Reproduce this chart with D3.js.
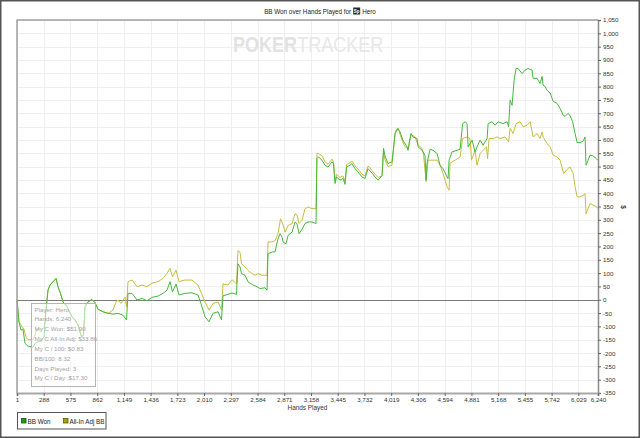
<!DOCTYPE html>
<html>
<head>
<meta charset="utf-8">
<script src="https://cdn.jsdelivr.net/npm/d3@7"></script>
<style>
body { margin: 0; background: #fff; }
text { font-family: "Liberation Sans", Arial, sans-serif; }
</style>
</head>
<body>
<div id="chart"></div>
<script>
var xTicks = [1, 288, 575, 862, 1149, 1436, 1723, 2010, 2297, 2584, 2871, 3158, 3445, 3732,
  4019, 4306, 4594, 4881, 5168, 5455, 5742, 6029, 6240];
var yTicks = [-350, -300, -250, -200, -150, -100, -50, 0, 50, 100, 150, 200, 250, 300, 350,
  400, 450, 500, 550, 600, 650, 700, 750, 800, 850, 900, 950, 1000, 1050];

// BB Won
var wonHands = [1, 22, 44, 65, 87, 119, 173, 194, 227, 269, 291, 312, 334, 355, 388, 420, 441, 468, 495, 538,
  592, 624, 656, 694, 715, 731, 764, 806, 839, 871, 925, 979, 1032, 1086, 1139, 1177, 1193, 1236, 1290, 1344,
  1397, 1451, 1516, 1569, 1612, 1644, 1671, 1709, 1741, 1805, 1880, 1945, 1982, 2020, 2063, 2106, 2160, 2197, 2213, 2267,
  2310, 2358, 2374, 2396, 2412, 2449, 2482, 2536, 2579, 2611, 2665, 2686, 2697, 2740, 2772, 2804, 2826, 2847, 2858, 2890,
  2912, 2955, 2987, 3008, 3030, 3062, 3094, 3126, 3169, 3212, 3222, 3239, 3276, 3308, 3341, 3384, 3400, 3416, 3432, 3470,
  3502, 3524, 3540, 3577, 3599, 3631, 3663, 3706, 3738, 3771, 3814, 3846, 3878, 3921, 3937, 3953, 3985, 4028, 4061, 4093,
  4114, 4146, 4189, 4200, 4232, 4254, 4297, 4308, 4351, 4372, 4383, 4394, 4404, 4437, 4469, 4512, 4544, 4576, 4619, 4630,
  4641, 4673, 4727, 4759, 4786, 4813, 4834, 4845, 4888, 4920, 4941, 4974, 5006, 5049, 5060, 5103, 5135, 5167, 5221, 5264,
  5280, 5296, 5317, 5339, 5360, 5382, 5425, 5457, 5489, 5532, 5543, 5586, 5618, 5640, 5651, 5672, 5694, 5726, 5758, 5801,
  5833, 5866, 5887, 5919, 5941, 5968, 5994, 6016, 6048, 6080, 6101, 6112, 6134, 6155, 6187, 6219, 6240];
var wonBB = [0, -83, -114, -110, -164, -174, -179, -164, -158, -150, -139, -39, 36, 55, 68, 80, 49, 24, -8, -26,
  -64, -76, -95, -139, -133, -26, -8, 1, -11, -36, -45, -51, -54, -51, -58, -76, 24, 24, -1, 5,
  -4, 9, 14, 24, 36, 68, 30, 59, 18, 24, 26, 18, -20, -64, -83, -51, -45, -76, 15, 20,
  25, 20, 135, 123, 98, 92, 67, 55, 49, 42, 45, 36, 173, 179, 180, 229, 248, 235, 217, 210,
  242, 254, 292, 285, 248, 265, 286, 292, 292, 286, 530, 536, 524, 505, 498, 518, 510, 436, 461, 449,
  455, 433, 498, 505, 511, 492, 480, 461, 455, 492, 475, 461, 449, 465, 568, 540, 511, 518, 624, 643,
  630, 598, 574, 561, 624, 611, 605, 574, 561, 549, 540, 449, 512, 565, 561, 549, 505, 492, 461, 455,
  524, 555, 561, 565, 661, 668, 661, 574, 599, 555, 574, 599, 580, 605, 661, 668, 655, 668, 661, 668,
  649, 749, 730, 824, 868, 868, 849, 862, 868, 862, 831, 831, 812, 838, 805, 800, 786, 776, 745, 737,
  718, 693, 688, 700, 690, 668, 624, 590, 590, 595, 611, 505, 524, 543, 540, 531, 523];

// All-In Adj BB
var adjHands = [1, 22, 44, 76, 98, 119, 173, 194, 216, 269, 291, 312, 334, 355, 388, 420, 441, 468, 495, 538,
  592, 624, 656, 694, 715, 731, 764, 806, 839, 871, 925, 979, 1032, 1064, 1086, 1118, 1161, 1177, 1193, 1236,
  1290, 1344, 1397, 1451, 1516, 1569, 1612, 1644, 1671, 1709, 1741, 1805, 1880, 1945, 1982, 2020, 2063, 2106, 2160, 2197,
  2213, 2267, 2310, 2358, 2374, 2396, 2412, 2449, 2482, 2525, 2557, 2589, 2632, 2686, 2697, 2740, 2772, 2804, 2831, 2853,
  2879, 2912, 2955, 2987, 3008, 3030, 3062, 3094, 3126, 3169, 3212, 3222, 3239, 3276, 3308, 3341, 3384, 3400, 3416, 3432,
  3470, 3502, 3524, 3540, 3577, 3599, 3631, 3663, 3706, 3738, 3771, 3814, 3846, 3878, 3921, 3937, 3953, 3985, 4028, 4061,
  4071, 4093, 4136, 4168, 4200, 4232, 4275, 4308, 4351, 4367, 4394, 4415, 4458, 4512, 4544, 4576, 4619, 4641, 4651, 4705,
  4759, 4786, 4834, 4866, 4882, 4920, 4941, 4974, 5006, 5043, 5054, 5070, 5113, 5156, 5188, 5242, 5280, 5296, 5328, 5360,
  5403, 5436, 5478, 5511, 5543, 5586, 5618, 5640, 5651, 5694, 5726, 5758, 5801, 5833, 5871, 5919, 5941, 5973, 5994, 6016,
  6048, 6080, 6101, 6112, 6134, 6155, 6187, 6219, 6240];
var adjBB = [0, -83, -95, -110, -140, -150, -150, -133, -110, -110, -105, -39, 36, 55, 68, 80, 49, 24, -8, -26,
  -64, -76, -95, -139, -133, -26, -8, 1, -11, -36, -45, -51, -39, -8, -1, -14, 10, -26, 68, 74,
  49, 55, 49, 62, 68, 80, 99, 118, 86, 111, 68, 74, 74, 55, 24, -8, -39, -14, -8, -39,
  60, 55, 75, 60, 185, 178, 135, 123, 110, 98, 92, 98, 92, 92, 217, 217, 222, 248, 304, 286,
  254, 279, 286, 323, 318, 286, 298, 342, 348, 342, 342, 549, 549, 540, 518, 508, 528, 518, 446, 471,
  459, 465, 443, 508, 515, 521, 502, 490, 471, 465, 502, 485, 471, 459, 465, 555, 525, 500, 505, 624,
  636, 643, 598, 574, 568, 620, 611, 580, 568, 543, 443, 524, 524, 524, 505, 474, 424, 411, 512, 524,
  536, 605, 611, 605, 524, 561, 505, 549, 561, 574, 530, 605, 605, 611, 605, 611, 593, 643, 624, 661,
  668, 649, 655, 668, 611, 624, 605, 630, 610, 586, 574, 543, 536, 524, 474, 493, 498, 474, 424, 386,
  386, 392, 399, 323, 343, 361, 355, 350, 343];

var seriesNames = ["BB Won", "All-In Adj BB"];
var infoLines = ["Player: Hero", "Hands: 6,240", "My C Won: $51.90", "My C All-In Adj: $33.86",
  "My C / 100: $0.83", "BB/100: 8.32", "Days Played: 3", "My C / Day: $17.30"];

var width = 640, height = 438;
var plotL = 17, plotR = 598, plotT = 20, plotB = 393;

var svg = d3.select("#chart").append("svg")
    .attr("width", width)
    .attr("height", height);

svg.append("rect").attr("x", 0).attr("y", 0).attr("width", width).attr("height", height).attr("fill", "#fff");

var x = d3.scaleLinear().domain([1, 6240]).range([plotL, plotR]);
var y = d3.scaleLinear().domain([-350, 1050]).range([plotB, plotT]);

// grid
svg.append("g").selectAll("line").data(yTicks).enter().append("line")
  .attr("x1", plotL).attr("x2", plotR)
  .attr("y1", function(d) { return Math.round(y(d)) + 0.5; })
  .attr("y2", function(d) { return Math.round(y(d)) + 0.5; })
  .attr("stroke", "#efefef");
svg.append("g").selectAll("line").data(xTicks).enter().append("line")
  .attr("y1", plotT).attr("y2", plotB)
  .attr("x1", function(d) { return Math.round(x(d)) + 0.5; })
  .attr("x2", function(d) { return Math.round(x(d)) + 0.5; })
  .attr("stroke", "#efefef");

// watermark, one text squeezed sideways
var wm = svg.append("text")
  .attr("transform", "translate(233,52) scale(0.82,1)")
  .attr("font-size", 22);
wm.append("tspan").attr("font-weight", "bold").attr("fill", "#e2e2e2").text("POKER");
wm.append("tspan").attr("fill", "#e8e8e8").text("TRACKER");

// zero line
svg.append("line").attr("x1", plotL).attr("x2", plotR)
  .attr("y1", Math.round(y(0)) + 0.5).attr("y2", Math.round(y(0)) + 0.5)
  .attr("stroke", "#7a7a7a").attr("stroke-width", 1);

var line = d3.line()
  .x(function(d) { return x(d[0]); })
  .y(function(d) { return y(d[1]); });

svg.append("path")
  .datum(d3.zip(adjHands, adjBB))
  .attr("d", line)
  .attr("fill", "none").attr("stroke", "#c6be40").attr("stroke-width", 1);

svg.append("path")
  .datum(d3.zip(wonHands, wonBB))
  .attr("d", line)
  .attr("fill", "none").attr("stroke", "#45b83c").attr("stroke-width", 1);

// plot frame
svg.append("path")
  .attr("d", "M" + plotL + "," + plotB + "V" + plotT + "H" + plotR)
  .attr("fill", "none").attr("stroke", "#a0a0a0").attr("stroke-width", 1.5);

var fmt = function(d) { return d3.format(",")(d).replace("\u2212", "-"); };

var yAxis = svg.append("g")
  .attr("transform", "translate(" + plotR + ",0)")
  .call(d3.axisRight(y).tickValues(yTicks).tickSize(3).tickPadding(2).tickFormat(fmt));
yAxis.select(".domain").attr("stroke", "#8a8a8a").attr("stroke-width", 1.5);
yAxis.selectAll(".tick line").attr("stroke", "#666");
yAxis.selectAll("text").attr("font-size", 6.2).attr("fill", "#333")
  .attr("font-family", "Liberation Sans, Arial, sans-serif");

var xAxis = svg.append("g")
  .attr("transform", "translate(0," + plotB + ")")
  .call(d3.axisBottom(x).tickValues(xTicks).tickSize(3).tickPadding(2).tickFormat(fmt));
xAxis.select(".domain").attr("stroke", "#a8a8a8").attr("stroke-width", 2);
xAxis.selectAll(".tick line").attr("stroke", "#666");
xAxis.selectAll("text").attr("font-size", 6.2).attr("fill", "#333")
  .attr("font-family", "Liberation Sans, Arial, sans-serif");

svg.append("text").attr("x", (plotL + plotR) / 2).attr("y", 410)
  .attr("text-anchor", "middle").attr("font-size", 6.4).attr("fill", "#333").text("Hands Played");

svg.append("text").attr("transform", "translate(621,207) rotate(90)")
  .attr("text-anchor", "middle").attr("font-size", 6.4).attr("font-weight", "bold").attr("fill", "#333").text("$");

// title
var title = svg.append("g");
var t1 = title.append("text").attr("y", 13.5).attr("font-size", 6.3).attr("fill", "#222")
  .text("BB Won over Hands Played for");
var t2 = title.append("text").attr("y", 13.5).attr("font-size", 6.3).attr("fill", "#222").text("Hero");
var w1 = t1.node().getComputedTextLength(), w2 = t2.node().getComputedTextLength();
var total = w1 + 2 + 7 + 2 + w2;
var sx = width / 2 - total / 2;
t1.attr("x", sx);
title.append("rect").attr("x", sx + w1 + 2).attr("y", 7.5).attr("width", 7).attr("height", 7).attr("fill", "#2a2a2a");
title.append("text").attr("x", sx + w1 + 5.5).attr("y", 12.8).attr("text-anchor", "middle")
  .attr("font-size", 4.5).attr("font-weight", "bold").attr("fill", "#fff").text("Sp");
t2.attr("x", sx + w1 + 11);

// info box
var info = svg.append("g");
info.append("rect").attr("x", 31.5).attr("y", 303.5).attr("width", 64).attr("height", 83)
  .attr("fill", "#fff").attr("fill-opacity", 0.55).attr("stroke", "#b4b4b4");
info.selectAll("text").data(infoLines).enter().append("text")
  .attr("x", 34.5)
  .attr("y", function(d, i) { return 311.5 + i * 9.85; })
  .attr("font-size", 6.2).attr("fill", "#a2a2a2")
  .text(function(d) { return d; });

// legend
var legend = svg.append("g");
legend.append("rect").attr("x", 17.5).attr("y", 412.5).attr("width", 88.5).attr("height", 16.5)
  .attr("fill", "#fff").attr("stroke", "#555");
var legendColors = ["#1e9a1e", "#a3a10c"];
var legendStroke = ["#0d5c0d", "#5e5c00"];
var legendX = [21.5, 63.5];
seriesNames.forEach(function(name, i) {
  legend.append("rect").attr("x", legendX[i]).attr("y", 418.5).attr("width", 4.5).attr("height", 4.5)
    .attr("fill", legendColors[i]).attr("stroke", legendStroke[i]).attr("stroke-width", 0.8);
  legend.append("text").attr("x", legendX[i] + 6).attr("y", 423.5)
    .attr("font-size", 6.3).attr("fill", "#222").text(name);
});

// outer border
svg.append("rect").attr("x", 0.75).attr("y", 0.75).attr("width", width - 1.5).attr("height", height - 1.5)
  .attr("fill", "none").attr("stroke", "#555").attr("stroke-width", 1.5);
</script>
</body>
</html>
